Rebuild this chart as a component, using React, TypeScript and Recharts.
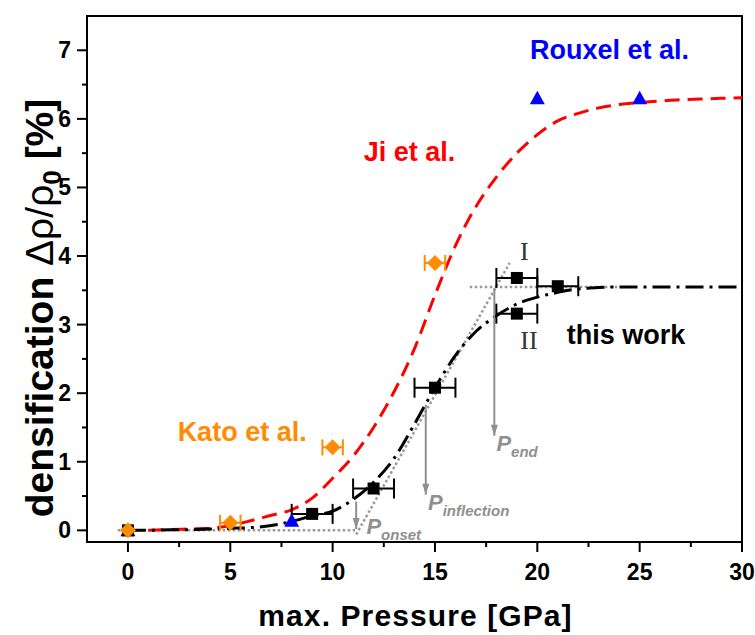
import React from 'react';
import { ComposedChart, XAxis, YAxis, Line, Scatter, ErrorBar, ReferenceArea } from 'recharts';

const FONT = "'Liberation Sans', Arial, Helvetica, sans-serif";
const SERIF = "'Liberation Serif', 'Times New Roman', serif";

// ---- ticks ----
const xMajorTicks = [0, 5, 10, 15, 20, 25, 30];
const xMinorTicks = [2.5, 7.5, 12.5, 17.5, 22.5, 27.5];
const yMajorTicks = [0, 1, 2, 3, 4, 5, 6, 7];
const yMinorTicks = [0.5, 1.5, 2.5, 3.5, 4.5, 5.5, 6.5];

// ---- this work (black squares) ----
const thisWorkP = [0, 9, 12, 15, 19, 21, 19];
const thisWorkD = [0, 0.24, 0.61, 2.08, 3.68, 3.56, 3.16];
const thisWorkErr = [0, 1, 1, 1, 1, 1, 1];

// ---- Kato et al. (orange diamonds) ----
const katoP = [0, 5, 10, 15];
const katoD = [0, 0.11, 1.21, 3.9];
const katoErr = [0, 0.5, 0.5, 0.5];

// ---- Rouxel et al. (blue triangles) ----
const rouxelP = [0, 8, 20, 25];
const rouxelD = [0, 0.14, 6.3, 6.3];

// ---- Ji et al. curve (red dashed) ----
const jiP = [1, 2, 3, 4, 5, 6, 7, 8, 9, 10, 11, 12, 13, 14, 15, 16, 17, 18, 19, 20, 21, 22, 23, 24, 25, 26, 27, 28, 29, 30];
const jiD = [0.0, 0.01, 0.02, 0.03, 0.07, 0.14, 0.22, 0.3, 0.47, 0.76, 1.08, 1.5, 2.02, 2.65, 3.43, 4.15, 4.72, 5.15, 5.5, 5.77, 5.97, 6.08, 6.16, 6.21, 6.24, 6.26, 6.28, 6.29, 6.3, 6.31];

// ---- fit of this work (black dash-dot) ----
const fitP = [0, 1, 2, 3, 4, 5, 6, 7, 8, 9, 10, 11, 12, 13, 14, 15, 16, 17, 18, 19, 20, 21, 22, 23, 24, 25, 26, 27, 28, 29, 30];
const fitD = [0, 0, 0.01, 0.01, 0.02, 0.03, 0.04, 0.07, 0.13, 0.21, 0.28, 0.45, 0.7, 1.05, 1.55, 2.08, 2.55, 2.9, 3.13, 3.3, 3.4, 3.47, 3.52, 3.54, 3.55, 3.55, 3.55, 3.55, 3.55, 3.55, 3.55];

// ---- construction lines (grey dotted) ----
const onsetBaseP = [-0.5, 11.15];
const onsetBaseD = [0, 0];
const tangentP = [11.15, 18.65];
const tangentD = [-0.06, 3.9];
const plateauP = [16.7, 24];
const plateauD = [3.55, 3.55];

// ---- arrows (grey) ----
const arrowP = [11.15, 14.55, 17.9];
const arrowTopD = [0.42, 1.83, 3.53];
const arrowTipD = [0.02, 0.52, 1.38];

// ---- text labels ----
const labelText = ['Ji et al.', 'Rouxel et al.', 'Kato et al.', 'this work', 'I', 'II'];
const labelP = [13.76, 23.53, 5.58, 24.33, 19.37, 19.59];
const labelD = [5.52, 7.01, 1.44, 2.85, 4.07, 2.77];

const pLabelSub = ['onset', 'inflection', 'end'];
const pLabelP = [11.65, 14.66, 18.0];
const pLabelD = [-0.06, 0.3, 1.15];

// ---- build tables ----
const pts = (xs: number[], ys: number[]) => xs.map((x, i) => ({ x, y: ys[i] }));
const thisWorkData = thisWorkP.map((x, i) => ({ x, y: thisWorkD[i], err: thisWorkErr[i] }));
const katoData = katoP.map((x, i) => ({ x, y: katoD[i], err: katoErr[i] }));
const rouxelData = pts(rouxelP, rouxelD);
const jiData = pts(jiP, jiD);
const fitData = pts(fitP, fitD);
const arrowData = arrowP.map((x, i) => [
  { x, y: arrowTopD[i] },
  { x, y: arrowTipD[i] },
]);
const labelData = labelText.map((text, i) => ({ x: labelP[i], y: labelD[i], text }));
const pLabelData = pLabelSub.map((sub, i) => ({ x: pLabelP[i], y: pLabelD[i], sub }));

const labelStyle: Record<string, { fill: string; font: string; weight: string; size: number }> = {
  'Ji et al.': { fill: '#ff0000', font: FONT, weight: 'bold', size: 27 },
  'Rouxel et al.': { fill: '#0000ff', font: FONT, weight: 'bold', size: 27 },
  'Kato et al.': { fill: '#ff8c00', font: FONT, weight: 'bold', size: 27 },
  'this work': { fill: '#000000', font: FONT, weight: 'bold', size: 27 },
  I: { fill: '#333333', font: SERIF, weight: 'normal', size: 26 },
  II: { fill: '#333333', font: SERIF, weight: 'normal', size: 26 },
};

const GREY = '#8f8f8f';
const ORANGE = '#ff8c00';
const TICK = 10;
const MINOR = 5;

function XTick(props: any) {
  const { x, y, payload } = props;
  const v = payload.value;
  const major = xMajorTicks.includes(v);
  const ay = y - TICK;
  return (
    <g>
      <line x1={x} x2={x} y1={ay} y2={ay + (major ? TICK : MINOR)} stroke="#000" strokeWidth={2} />
      {major ? (
        <text x={x} y={ay + 38} textAnchor="middle" fontFamily={FONT} fontWeight="bold" fontSize={23} fill="#000">
          {v}
        </text>
      ) : null}
    </g>
  );
}

function YTick(props: any) {
  const { x, y, payload } = props;
  const v = payload.value;
  const major = yMajorTicks.includes(v);
  const ax = x + TICK;
  return (
    <g>
      <line x1={ax} x2={ax - (major ? TICK : MINOR)} y1={y} y2={y} stroke="#000" strokeWidth={2} />
      {major ? (
        <text x={ax - 16} y={y + 8} textAnchor="end" fontFamily={FONT} fontWeight="bold" fontSize={23} fill="#000">
          {v}
        </text>
      ) : null}
    </g>
  );
}

const XTitle = (props: any) => {
  const vb = props.viewBox || { x: 87, y: 542, width: 655, height: 93 };
  return (
    <text x={vb.x + vb.width / 2 + 1} y={vb.y + 84} textAnchor="middle" fontFamily={FONT} fontWeight="bold" fontSize={30} fill="#000" letterSpacing={1.1}>
      max. Pressure [GPa]
    </text>
  );
};

const YTitle = () => {
  const cx = 53;
  const cy = 308;
  return (
    <text x={cx} y={cy} transform={`rotate(-90, ${cx}, ${cy})`} textAnchor="middle" fontFamily={FONT} fontWeight="bold" fontSize={39} fill="#000">
      densification <tspan fontWeight="normal">Δρ/ρ</tspan>
      <tspan fontSize={26} dy={8}>0</tspan>
      <tspan dy={-8}> [%]</tspan>
    </text>
  );
};

const Square = (p: any) =>
  p.cx == null ? <g /> : <rect x={p.cx - 6} y={p.cy - 6} width={12} height={12} fill="#000" />;
const Diamond = (p: any) =>
  p.cx == null ? (
    <g />
  ) : (
    <polygon points={`${p.cx},${p.cy - 8} ${p.cx + 8},${p.cy} ${p.cx},${p.cy + 8} ${p.cx - 8},${p.cy}`} fill={ORANGE} />
  );
const Triangle = (p: any) =>
  p.cx == null ? (
    <g />
  ) : (
    <polygon points={`${p.cx},${p.cy - 7.5} ${p.cx + 7.5},${p.cy + 6} ${p.cx - 7.5},${p.cy + 6}`} fill="#0000ff" />
  );

const TextLabel = (p: any) => {
  if (p.cx == null) return <g />;
  const t = p.payload.text;
  const s = labelStyle[t];
  return (
    <text x={p.cx} y={p.cy} textAnchor="middle" dominantBaseline="central" fontFamily={s.font} fontWeight={s.weight} fontSize={s.size} fill={s.fill}>
      {t}
    </text>
  );
};

const PLabel = (p: any) => {
  if (p.cx == null) return <g />;
  return (
    <text x={p.cx} y={p.cy} fontFamily={FONT} fontWeight="bold" fontStyle="italic" fontSize={22} fill={GREY}>
      P
      <tspan fontSize={15} dy={6}>
        {p.payload.sub}
      </tspan>
    </text>
  );
};

const arrowDot = (p: any) => {
  const key = `ad-${p.index}-${p.cx}`;
  if (p.index !== 1 || p.cx == null) return <g key={key} />;
  return <polygon key={key} points={`${p.cx - 3.5},${p.cy - 11} ${p.cx + 3.5},${p.cy - 11} ${p.cx},${p.cy}`} fill={GREY} />;
};

export default function App() {
  return (
    <div style={{ position: 'absolute', left: 0, top: 0, width: 755, height: 635, background: '#fff' }}>
      <ComposedChart width={755} height={635} margin={{ top: 16, right: 13, bottom: 0, left: 0 }}>
        <XAxis
          type="number"
          dataKey="x"
          domain={[-2, 30]}
          allowDataOverflow
          ticks={[...xMajorTicks, ...xMinorTicks]}
          interval={0}
          tick={<XTick />}
          tickLine={false}
          tickSize={TICK}
          tickMargin={0}
          height={93}
          axisLine={{ stroke: '#000', strokeWidth: 2 }}
          label={<XTitle />}
        />
        <YAxis
          type="number"
          domain={[-0.17, 7.5]}
          allowDataOverflow
          ticks={[...yMajorTicks, ...yMinorTicks]}
          interval={0}
          tick={<YTick />}
          tickLine={false}
          tickSize={TICK}
          tickMargin={0}
          width={87}
          axisLine={{ stroke: '#000', strokeWidth: 2 }}
          label={<YTitle />}
        />
        <ReferenceArea x1={-2} x2={30} y1={-0.17} y2={7.5} fill="none" stroke="#000" strokeWidth={2} ifOverflow="visible" />

        <Line data={pts(onsetBaseP, onsetBaseD)} dataKey="y" type="linear" stroke="#999" strokeWidth={2.5} strokeDasharray="2.5 2.5" dot={false} isAnimationActive={false} />
        <Line data={pts(tangentP, tangentD)} dataKey="y" type="linear" stroke="#999" strokeWidth={2.5} strokeDasharray="2.5 2.5" dot={false} isAnimationActive={false} />
        <Line data={pts(plateauP, plateauD)} dataKey="y" type="linear" stroke="#999" strokeWidth={2.5} strokeDasharray="2.5 2.5" dot={false} isAnimationActive={false} />

        <Line data={jiData} dataKey="y" type="monotone" stroke="#ff0000" strokeWidth={3} strokeDasharray="15 8" dot={false} isAnimationActive={false} />
        <Line data={fitData} dataKey="y" type="monotone" stroke="#000" strokeWidth={3} strokeDasharray="18 6 3 6" dot={false} isAnimationActive={false} />

        {arrowData.map((d, i) => (
          <Line key={`arrow${i}`} data={d} dataKey="y" type="linear" stroke={GREY} strokeWidth={2} dot={arrowDot} isAnimationActive={false} />
        ))}

        <Scatter data={rouxelData} dataKey="y" shape={Triangle} isAnimationActive={false} />
        <Scatter data={thisWorkData} dataKey="y" shape={Square} isAnimationActive={false}>
          <ErrorBar dataKey="err" direction="x" width={10} stroke="#000" strokeWidth={2} />
        </Scatter>
        <Scatter data={katoData} dataKey="y" shape={Diamond} isAnimationActive={false}>
          <ErrorBar dataKey="err" direction="x" width={8} stroke={ORANGE} strokeWidth={2} />
        </Scatter>

        <Scatter data={labelData} dataKey="y" shape={TextLabel} isAnimationActive={false} />
        <Scatter data={pLabelData} dataKey="y" shape={PLabel} isAnimationActive={false} />
      </ComposedChart>
    </div>
  );
}
